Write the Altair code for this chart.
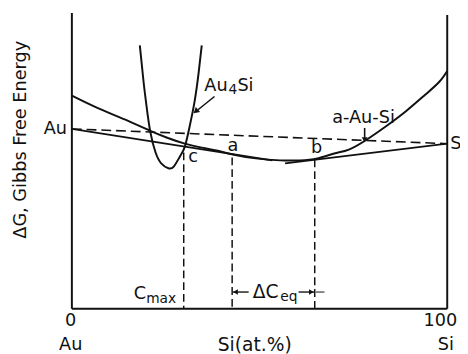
import altair as alt
import pandas as pd

# ---- data (x: Si at.%, g: free energy, arbitrary units) ----
# Au4Si compound free-energy parabola
au4si_x = [18.1, 19.1, 19.9, 20.9, 22.3, 23.8, 25.7, 27.2, 28.8, 30.1, 31.4, 32.7, 33.8, 34.6]
au4si_g = [268, 231, 206, 180, 159, 148, 143, 145, 155, 165, 186, 211, 241, 268]

# amorphous a-Au-Si free-energy curve
amor_x = [0, 7.1, 15.7, 20.9, 25.4, 30.1, 34.6, 38.5, 42.9, 49.0, 55.5, 60.7, 65.4,
          69.9, 73.8, 78.5, 83.8, 89.0, 94.2, 97.9, 100]
amor_g = [217, 204, 190, 181, 174, 168, 164, 161, 157, 153, 151, 151, 153,
          158, 162, 172, 186, 201, 218, 231, 242]

# common tangent lines
tan1_x = [0, 53.4]
tan1_g = [183, 151]
tan2_x = [56.8, 100]
tan2_g = [148, 168]

# straight line between pure Au and pure Si (dashed)
ref_x = [0, 100]
ref_g = [183, 168]

# composition markers c, a, b
mark_names = ["c", "a", "b"]
mark_x = [29.8, 42.7, 64.7]
mark_top = [159, 154, 152]
mark_lab_x = [32.3, 42.9, 65.2]
mark_lab_g = [154, 166, 163]

FONT = "DejaVu Sans"
BLACK = "#111111"

X_SC = alt.Scale(domain=[0, 100], nice=False, zero=False)
Y_SC = alt.Scale(domain=[0, 300], nice=False, zero=False)


def xy(df, xcol="x", ycol="g"):
    return dict(x=alt.X(f"{xcol}:Q", scale=X_SC, axis=None),
                y=alt.Y(f"{ycol}:Q", scale=Y_SC, axis=None))


def line(xs, gs, dash=None, width=2.0, interp="linear"):
    df = pd.DataFrame({"x": xs, "g": gs, "o": list(range(len(xs)))})
    kw = dict(color=BLACK, strokeWidth=width, interpolate=interp)
    if dash:
        kw["strokeDash"] = dash
    return alt.Chart(df).mark_line(**kw).encode(order="o:Q", **xy(df))


def rule(x, g, x2, g2, dash=None, width=2.0):
    df = pd.DataFrame({"x": [x], "g": [g], "x2": [x2], "g2": [g2]})
    kw = dict(color=BLACK, strokeWidth=width)
    if dash:
        kw["strokeDash"] = dash
    return alt.Chart(df).mark_rule(**kw).encode(
        x=alt.X("x:Q", scale=X_SC, axis=None), x2="x2:Q",
        y=alt.Y("g:Q", scale=Y_SC, axis=None), y2="g2:Q")


def text(t, x, g, size=18, align="center", angle=0, baseline="middle"):
    df = pd.DataFrame({"x": [x], "g": [g], "t": [t]})
    kw = dict(font=FONT, fontSize=size, color=BLACK, align=align, baseline=baseline)
    if angle:
        kw["angle"] = angle
    return alt.Chart(df).mark_text(**kw).encode(text="t:N", **xy(df))


def head(x, g, shape, angle=0, size=40):
    df = pd.DataFrame({"x": [x], "g": [g]})
    kw = dict(shape=shape, filled=True, color=BLACK, size=size, opacity=1)
    if angle:
        kw["angle"] = angle
    return alt.Chart(df).mark_point(**kw).encode(**xy(df))


layers = []
# axes frame
layers.append(rule(0, 0, 0, 301, width=2))
layers.append(rule(100, 0, 100, 299, width=2))
layers.append(rule(0, 0, 100, 0, width=2))

# curves
layers.append(line(ref_x, ref_g, dash=[10, 5], width=1.6))
layers.append(line(tan1_x, tan1_g, width=1.8))
layers.append(line(tan2_x, tan2_g, width=1.8))
layers.append(line(amor_x, amor_g, width=2.0, interp="natural"))
layers.append(line(au4si_x, au4si_g, width=2.0, interp="natural"))

# vertical composition markers
mk = pd.DataFrame({"x": mark_x, "g": mark_top, "g2": [0, 0, 0]})
layers.append(alt.Chart(mk).mark_rule(color=BLACK, strokeWidth=1.5, strokeDash=[8, 4]).encode(
    x=alt.X("x:Q", scale=X_SC, axis=None),
    y=alt.Y("g:Q", scale=Y_SC, axis=None), y2="g2:Q"))
for n, lx, lg in zip(mark_names, mark_lab_x, mark_lab_g):
    layers.append(text(n, lx, lg, size=18))

# Au4Si label + arrow
layers.append(text("Au", 35.3, 227, align="left"))
layers.append(text("4", 41.7, 223, size=14, align="left"))
layers.append(text("Si", 44.1, 227, align="left"))
layers.append(rule(38.0, 216, 33.6, 202.5, width=1.6))
layers.append(head(33.2, 201.5, "triangle", angle=230, size=45))

# a-Au-Si label + arrow
layers.append(text("a-Au-Si", 77.7, 194))
layers.append(rule(78.0, 184, 78.0, 174, width=1.6))
layers.append(head(78.0, 172, "triangle-down", size=35))

# Cmax
layers.append(text("C", 18.1, 15))
layers.append(text("max", 23.8, 10, size=14))

# Delta C eq
layers.append(rule(42.9, 17, 47.1, 17, width=1.4))
layers.append(head(43.6, 17, "triangle-left", size=30))
layers.append(text("\u0394C", 51.6, 17, size=19))
layers.append(text("eq", 57.8, 12, size=14))
layers.append(rule(60.4, 17, 64.5, 17, width=1.4))
layers.append(head(63.8, 17, "triangle-right", size=30))
layers.append(rule(65.0, 17, 67.3, 17, width=1.0))

# axis end labels
layers.append(text("Au", -1.3, 183, align="right"))
layers.append(text("Si", 100.8, 168, align="left"))
layers.append(text("0", -0.3, -13))
layers.append(text("100", 98.2, -13))
layers.append(text("Au", -0.3, -36.5))
layers.append(text("Si(at.%)", 48.7, -36.5, size=19))
layers.append(text("Si", 99.6, -36.5))

# y title
layers.append(text("\u0394G, Gibbs Free Energy", -13.6, 172, size=18, angle=270))

chart = alt.layer(*layers).properties(
    width=382, height=300,
    autosize=alt.AutoSizeParams(type="none"),
    padding={"left": 65, "top": 3, "right": 13, "bottom": 43},
    background="white",
).configure_view(stroke=None)

chart.save("out.html", embed_options={"renderer": "svg", "actions": False})
